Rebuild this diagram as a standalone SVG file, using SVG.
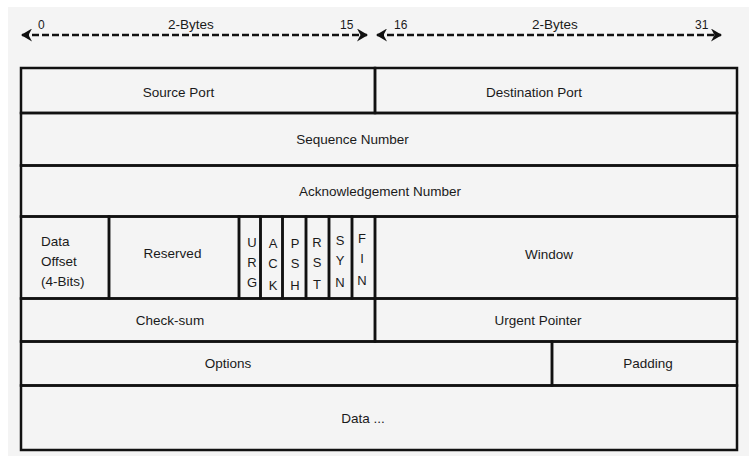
<svg xmlns="http://www.w3.org/2000/svg" width="749" height="457" viewBox="0 0 749 457">
<style>
.cell{fill:none;stroke:#111;stroke-width:2.5}
.t{font-family:"Liberation Sans",Arial,sans-serif;font-size:13.5px;fill:#1a1a1a}
.m{text-anchor:middle}
.f{font-family:"Liberation Sans",Arial,sans-serif;font-size:13px;fill:#1a1a1a;text-anchor:middle}
.s{font-family:"Liberation Sans",Arial,sans-serif;font-size:12px;fill:#1a1a1a}
.dash{stroke:#111;stroke-width:2.5;stroke-dasharray:7 3;fill:none}
</style>
<defs>
<marker id="ah" viewBox="0 0 11 13" refX="10" refY="6.5" markerWidth="11" markerHeight="13" orient="auto-start-reverse" markerUnits="userSpaceOnUse">
<path d="M0,0 L11,6.5 L0,13 L3.5,6.5 z" fill="#111"/>
</marker>
</defs>
<rect x="0" y="0" width="749" height="457" fill="#fff"/>
<rect x="8" y="7" width="741" height="449" fill="#f4f4f4"/>
<g id="connectors">
<line class="dash" x1="22" y1="35" x2="367" y2="35" marker-start="url(#ah)" marker-end="url(#ah)"/>
<line class="dash" x1="377" y1="35" x2="721" y2="35" marker-start="url(#ah)" marker-end="url(#ah)"/>
</g>
<g id="scale-labels">
<text class="s" x="38" y="29">0</text>
<text class="t" x="168" y="29">2-Bytes</text>
<text class="s" x="340" y="29">15</text>
<text class="s" x="394" y="29">16</text>
<text class="t" x="532" y="29">2-Bytes</text>
<text class="s" x="695" y="29">31</text>
</g>
<g id="source-port"><rect class="cell" x="21" y="68" width="354" height="45"/><text class="t m" x="178.5" y="97">Source Port</text></g>
<g id="destination-port"><rect class="cell" x="375" y="68" width="362" height="45"/><text class="t m" x="534" y="97">Destination Port</text></g>
<g id="sequence-number"><rect class="cell" x="21" y="113" width="716" height="52.5"/><text class="t m" x="352.5" y="144">Sequence Number</text></g>
<g id="ack-number"><rect class="cell" x="21" y="165.5" width="716" height="51"/><text class="t m" x="380" y="196">Acknowledgement Number</text></g>
<g id="data-offset"><rect class="cell" x="21" y="216.5" width="88" height="82"/><text class="t" x="41" y="246">Data</text><text class="t" x="41" y="266">Offset</text><text class="t" x="41" y="286">(4-Bits)</text></g>
<g id="reserved"><rect class="cell" x="109" y="216.5" width="130" height="82"/><text class="t m" x="172.5" y="258">Reserved</text></g>
<g id="urg"><rect class="cell" x="239" y="216.5" width="21.5" height="82"/><text class="f" x="252" y="247">U</text><text class="f" x="252" y="267">R</text><text class="f" x="252" y="287">G</text></g>
<g id="ack"><rect class="cell" x="260.5" y="216.5" width="22" height="82"/><text class="f" x="273" y="248">A</text><text class="f" x="273" y="268">C</text><text class="f" x="273" y="290">K</text></g>
<g id="psh"><rect class="cell" x="282.5" y="216.5" width="23.5" height="82"/><text class="f" x="295" y="248">P</text><text class="f" x="295" y="268">S</text><text class="f" x="295" y="290">H</text></g>
<g id="rst"><rect class="cell" x="306" y="216.5" width="23" height="82"/><text class="f" x="317" y="247">R</text><text class="f" x="317" y="267">S</text><text class="f" x="317" y="289">T</text></g>
<g id="syn"><rect class="cell" x="329" y="216.5" width="23" height="82"/><text class="f" x="340" y="245">S</text><text class="f" x="340" y="265">Y</text><text class="f" x="340" y="287">N</text></g>
<g id="fin"><rect class="cell" x="352" y="216.5" width="23" height="82"/><text class="f" x="362" y="243">F</text><text class="f" x="362" y="263">I</text><text class="f" x="362" y="285">N</text></g>
<g id="window"><rect class="cell" x="375" y="216.5" width="362" height="82"/><text class="t m" x="549" y="259">Window</text></g>
<g id="checksum"><rect class="cell" x="21" y="298.5" width="354" height="43"/><text class="t m" x="170" y="325">Check-sum</text></g>
<g id="urgent-pointer"><rect class="cell" x="375" y="298.5" width="362" height="43"/><text class="t m" x="538" y="325">Urgent Pointer</text></g>
<g id="options"><rect class="cell" x="21" y="341.5" width="531" height="44"/><text class="t m" x="228" y="368">Options</text></g>
<g id="padding"><rect class="cell" x="552" y="341.5" width="185" height="44"/><text class="t m" x="648" y="368">Padding</text></g>
<g id="data"><rect class="cell" x="21" y="385.5" width="716" height="64.5"/><text class="t m" x="363" y="423">Data ...</text></g>
</svg>
